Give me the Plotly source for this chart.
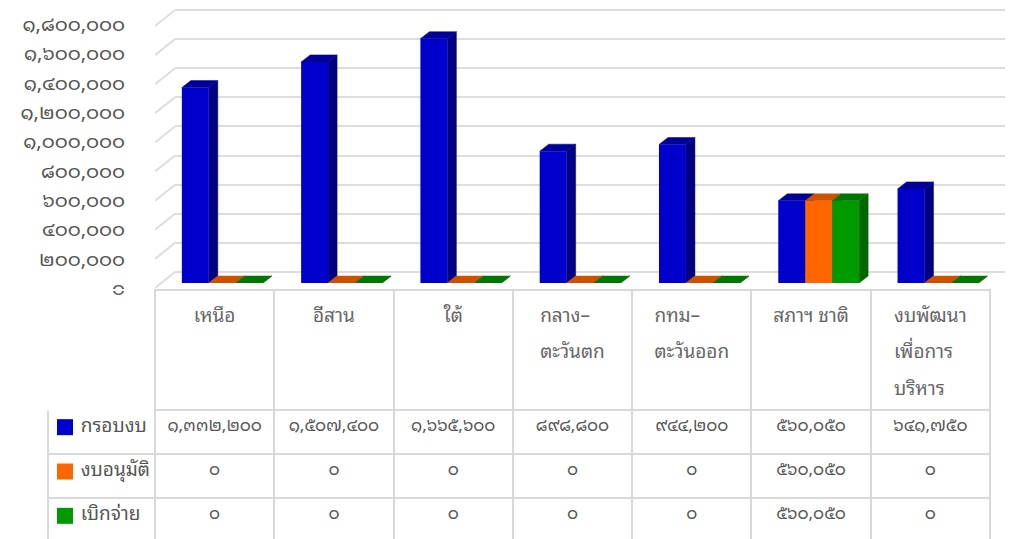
import plotly.graph_objects as go

categories = ["เหนือ", "อีสาน", "ใต้", "กลาง–ตะวันตก", "กทม–ตะวันออก", "สภาฯ ชาติ", "งบพัฒนาเพื่อการบริหาร"]
header_lines = [["เหนือ"], ["อีสาน"], ["ใต้"], ["กลาง–", "ตะวันตก"], ["กทม–", "ตะวันออก"],
                ["สภาฯ ชาติ"], ["งบพัฒนา", "เพื่อการ", "บริหาร"]]
series_names = ["กรอบงบ", "งบอนุมัติ", "เบิกจ่าย"]
framework = [1332200, 1507400, 1665600, 898800, 944200, 560050, 641750]
approved = [0, 0, 0, 0, 0, 560050, 0]
disbursed = [0, 0, 0, 0, 0, 560050, 0]
tick_values = [0, 200000, 400000, 600000, 800000, 1000000, 1200000, 1400000, 1600000, 1800000]

front_colors = ["#0000CC", "#FF6600", "#009900"]
top_colors = ["#000099", "#CC5200", "#007700"]
side_colors = ["#000080", "#B34700", "#006600"]
FONT = "Noto Sans Thai Looped, Noto Sans Thai, Tahoma, DejaVu Sans, sans-serif"
TH = str.maketrans("0123456789", "๐๑๒๓๔๕๖๗๘๙")


def thai(n):
    return f"{n:,}".translate(TH)


W, H = 1013, 539
VMAX = 1800000
series = [framework, approved, disbursed]
idx = list(range(len(categories)))

# ---- geometry (figure pixels, from top-left) ----
k_bar = 264 / VMAX          # px per unit for bar front faces
k_grid = 262 / VMAX         # px per unit for back wall
k_lab = 264 / VMAX          # px per unit for tick labels
DX = 9 / 119.3              # depth in category units
DY = 7 / k_bar              # depth in value units
BW = 0.226
offsets = [-0.275, -0.049, 0.177]

fig = go.Figure()

# back wall gridlines: horizontal lines via axis grid
fig.add_trace(go.Scatter(x=[], y=[], xaxis="x", yaxis="y", showlegend=False, hoverinfo="skip"))

# left wall slanted lines
sx, sy = [], []
for v in tick_values:
    sx += [0, 1, None]
    sy += [v - 16 / k_grid, v, None]
fig.add_trace(go.Scatter(x=sx, y=sy, xaxis="x5", yaxis="y5", mode="lines",
                         line=dict(color="#dddddd", width=2), showlegend=False, hoverinfo="skip"))

# pseudo-3D bars
z = 0
for s, (name, vals) in enumerate(zip(series_names, series)):
    off = offsets[s]
    side_x, side_y, top_x, top_y = [], [], [], []
    for i, v in zip(idx, vals):
        l = i + off
        r = l + BW
        side_x += [r, r + DX, r + DX, r, r, None]
        side_y += [0, DY, v + DY, v, 0, None]
        top_x += [l, r, r + DX, l + DX, l, None]
        top_y += [v, v, v + DY, v + DY, v, None]
    fig.add_trace(go.Scatter(x=side_x, y=side_y, xaxis="x2", yaxis="y2", mode="lines",
                             fill="toself", fillcolor=side_colors[s], line=dict(width=0.5, color=side_colors[s]),
                             showlegend=False, hoverinfo="skip", zorder=z))
    fig.add_trace(go.Scatter(x=top_x, y=top_y, xaxis="x2", yaxis="y2", mode="lines",
                             fill="toself", fillcolor=top_colors[s], line=dict(width=0.5, color=top_colors[s]),
                             showlegend=False, hoverinfo="skip", zorder=z))
    fig.add_trace(go.Bar(x=idx, y=vals, name=name, xaxis="x2", yaxis="y2",
                         marker=dict(color=front_colors[s], line=dict(width=0)),
                         width=BW, offset=off, showlegend=False,
                         hovertext=categories, hoverinfo="text+y", zorder=z + 1))
    z += 2

# tick label axis carrier
fig.add_trace(go.Scatter(x=[], y=[], xaxis="x2", yaxis="y3", showlegend=False, hoverinfo="skip"))

# legend squares inside table row headers
fig.add_trace(go.Scatter(
    x=[0, 0, 0], y=series_names, mode="markers", xaxis="x4", yaxis="y4",
    marker=dict(symbol="square", size=16, color=front_colors, line=dict(width=0)),
    showlegend=False, hoverinfo="skip",
))

HDR = '<span style="font-size:19px">{}</span>'
header_vals = [""] + ["<br>".join(HDR.format(t) for t in lines) + "<br>" for lines in header_lines]
cells_first = ["\u00a0" * 5 + n for n in series_names]
cell_vals = [cells_first] + [[thai(series[s][i]) for s in range(3)] for i in idx]

fig.add_trace(go.Table(
    domain=dict(x=[40 / W, 982 / W], y=[0, (H - 282) / H]),
    columnwidth=[107] + [119.3] * 7,
    header=dict(values=header_vals, height=115, align="center",
                fill_color="rgba(0,0,0,0)",
                line=dict(color=["white"] + ["#d9d9d9"] * 7, width=2),
                font=dict(family=FONT, size=28, color="#666666")),
    cells=dict(values=cell_vals, height=44, align=["left"] + ["center"] * 7,
               fill_color="rgba(0,0,0,0)", line=dict(color="#d9d9d9", width=2),
               font=dict(family=FONT, size=[19] + [17] * 7, color="#555555")),
))

hidden = dict(visible=False, fixedrange=True, automargin=False)
fig.update_layout(
    width=W, height=H, margin=dict(l=0, r=0, t=0, b=0, autoexpand=False),
    paper_bgcolor="white", plot_bgcolor="rgba(0,0,0,0)",
    barmode="overlay",
    # back wall grid
    xaxis=dict(domain=[167 / W, 1], range=[0, 1], **hidden),
    yaxis=dict(domain=[(H - 280) / H, 1], range=[-16 / k_grid, 264 / k_grid], anchor="x",
               tickvals=tick_values, showticklabels=False, ticks="",
               showgrid=True, gridcolor="#dddddd", gridwidth=2, zeroline=False,
               fixedrange=True, automargin=False, showline=False),
    # bars
    xaxis2=dict(domain=[147 / W, 982 / W], range=[-0.5, 6.5], **hidden),
    yaxis2=dict(domain=[(H - 275) / H, (H - 9) / H], range=[0, 266 / k_bar], anchor="x2", **hidden),
    # tick labels
    yaxis3=dict(domain=[(H - 280) / H, (H - 14) / H], range=[0, 266 / k_lab], anchor="x2",
                tickvals=tick_values, ticktext=[thai(v) for v in tick_values],
                showgrid=False, zeroline=False, showline=False,
                ticks="outside", ticklen=25, tickcolor="rgba(0,0,0,0)",
                ticklabeloverflow="allow",
                tickfont=dict(family=FONT, size=20, color="#555555"),
                fixedrange=True, automargin=False),
    # legend squares
    xaxis4=dict(domain=[49 / W, 65 / W], range=[-0.5, 0.5], **hidden),
    yaxis4=dict(domain=[(H - 530) / H, (H - 397) / H], range=[2.5, -0.5], anchor="x4",
                type="category", categoryorder="array", categoryarray=series_names, **hidden),
    # left wall
    xaxis5=dict(domain=[147 / W, 167 / W], range=[0, 1], **hidden),
    yaxis5=dict(domain=[(H - 280) / H, 1], range=[-16 / k_grid, 264 / k_grid], anchor="x5", **hidden),
    font=dict(family=FONT),
)

fig.write_html("out.html")
